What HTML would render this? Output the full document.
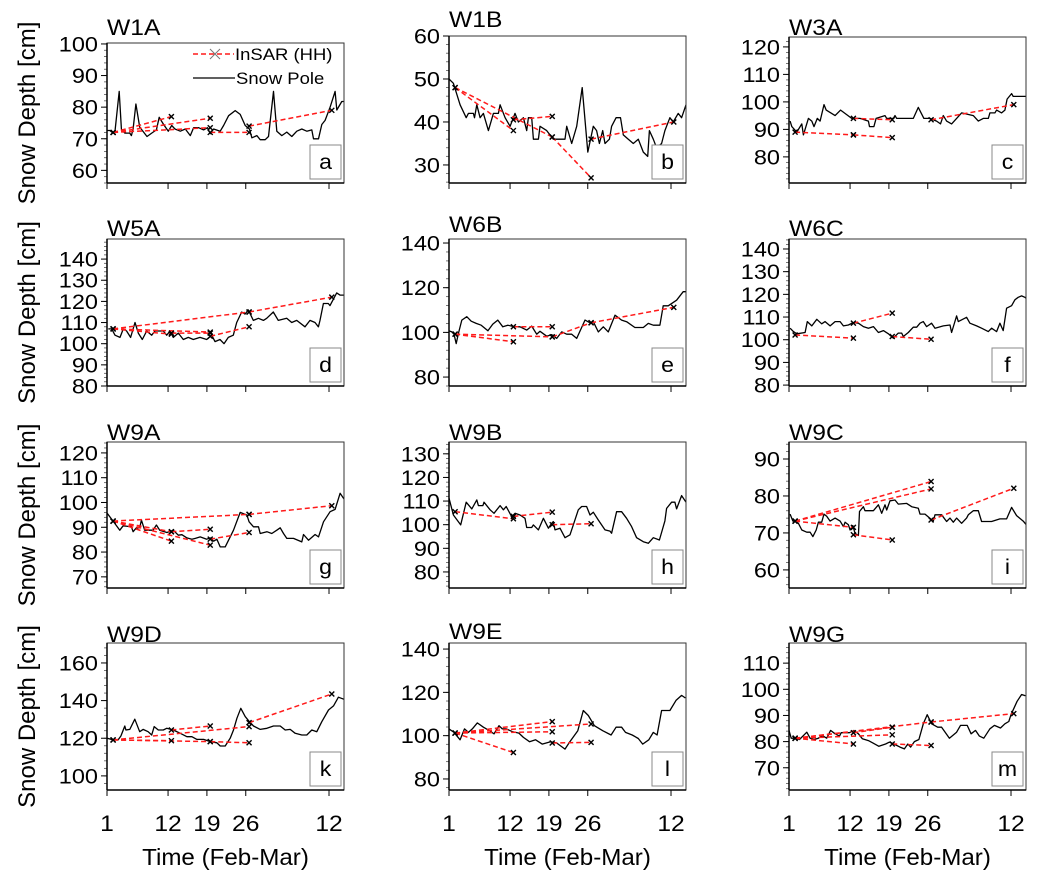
<!DOCTYPE html>
<html><head><meta charset="utf-8"><style>
html,body{margin:0;padding:0;background:#fff;}
svg{display:block;font-family:"Liberation Sans",Arial,sans-serif;}
</style></head>
<body>
<svg id="chart" width="1039" height="878" viewBox="0 0 1039 878" xmlns="http://www.w3.org/2000/svg"></svg>
<script>
// ---- data ----
const xTickDays = [1, 12, 19, 26, 41];
const xTickLabels = ["1", "12", "19", "26", "12"];
const stationNames = ["W1A","W1B","W3A","W5A","W6B","W6C","W9A","W9B","W9C","W9D","W9E","W9G"];
const panelLetters = ["a","b","c","d","e","f","g","h","i","k","l","m"];
const yTicksW1A = [60,70,80,90,100];
const yTicksW1B = [30,40,50,60];
const yTicksW3A = [80,90,100,110,120];
const yTicksW5A = [80,90,100,110,120,130,140];
const yTicksW6B = [80,100,120,140];
const yTicksW6C = [80,90,100,110,120,130,140];
const yTicksW9A = [70,80,90,100,110,120];
const yTicksW9B = [80,90,100,110,120,130];
const yTicksW9C = [60,70,80,90];
const yTicksW9D = [100,120,140,160];
const yTicksW9E = [80,100,120,140];
const yTicksW9G = [70,80,90,100,110];

const poleW1A = [[1.06,72.6],[1.5,72.6],[2.1,71.8],[2.4,71.8],[3.2,85],[3.6,73.1],[4.2,71.8],[5.1,71.8],[5.4,71],[5.7,73.1],[6.2,81],[6.9,73.7],[8.2,70.7],[9.05,71.8],[9.9,72.8],[10.4,76.8],[11.2,74.5],[12.05,72.4],[12.65,74.2],[13.25,73.1],[14.2,72.4],[15.1,73.1],[16,71],[16.6,73.5],[17.5,73.5],[18.4,72.8],[19.1,73.5],[19.6,71.6],[20.2,73.1],[21.4,72.4],[22,74.2],[22.9,77.3],[24.1,78.9],[25,77.7],[25.9,74.2],[26.65,73.1],[27.1,70.3],[28,71],[28.6,69.7],[29.5,69.7],[30.1,70.7],[31,85],[31.6,72.4],[32.5,71],[33.4,72.1],[34.3,70.7],[35.2,72.4],[36.1,73.1],[37,72.4],[37.9,72.8],[38.2,70],[39.1,70],[39.7,74.5],[40.3,75.8],[41.2,80],[42.1,85],[42.4,79.1],[43.3,81.8],[43.7,81.8]];
const poleW1B = [[1,50],[1.8,49],[3,44],[4.1,41],[4.5,42],[5.4,42],[5.6,41],[6,44],[6.6,41],[7.2,42],[8.1,38],[9,42],[9.9,42],[10.2,44],[11.1,41],[12,39],[12.9,42],[13.5,40],[14.4,41],[15,38],[15.3,41],[15.9,41],[16.2,36],[17.1,36],[17.4,39],[18.6,38],[19.8,36],[21.9,36],[22.2,39],[23.1,35],[24,39],[25,48],[26,33],[27,39],[27.6,38],[28.1,35],[28.7,38],[29.1,35],[29.9,36],[30.3,39],[31.1,41],[31.9,41],[32.4,37],[33.3,36],[34.2,35],[35.1,36],[36,33],[36.8,32],[37.1,38],[37.8,36],[38.4,34],[39.3,35],[39.9,38],[40.8,41],[41.4,40],[42.3,42],[42.9,41],[43.7,44]];
const poleW3A = [[1.2,93],[1.5,91],[2.4,89],[3.3,92],[3.6,88],[4.5,94],[5.1,93],[5.5,91],[6.1,94],[6.6,93],[7.3,99],[7.7,97],[9.3,95],[10.3,97],[12.3,94],[13.8,94],[15.3,93],[15.5,91],[16.3,91],[16.7,94],[18.3,95],[18.6,94],[19.8,94],[20.1,95],[20.4,94],[23.4,94],[24.3,98],[25.3,94],[26.4,94],[27.6,93],[28.3,92],[28.8,95],[29.4,93],[30.3,92],[32.1,96],[34.2,95],[35.1,93],[36,94],[36.9,94],[37.2,96],[38.1,96],[38.4,97],[39.3,96],[39.9,97],[40.3,101],[41.1,103],[41.4,102],[43.7,102]];
const poleW5A = [[1.24,107],[1.84,107],[2.44,104],[3.34,103],[3.94,107],[4.54,106],[5.26,103],[6.04,110],[6.64,105],[7.36,102],[8.15,106],[9.05,104],[9.65,106],[11.15,106],[11.75,104],[12.35,106],[12.95,103],[13.85,105],[14.75,102],[15.65,103],[16.55,102],[17.76,103],[18.96,102],[19.86,104],[20.46,101],[21.36,102],[22.08,100],[22.86,103],[23.76,104],[24.36,110],[25.26,115],[25.86,114],[26.46,116],[27.36,111],[28.27,112],[29.17,111],[29.77,112],[30.97,115],[31.87,111],[33.37,112],[34.27,110],[35.17,111],[36.67,108],[37.58,111],[38.48,110],[39.08,108],[39.38,111],[39.98,119],[40.88,119],[41.18,118],[41.78,121],[42.38,124],[42.98,123],[43.7,123]];
const poleW6B = [[1,100.7],[1.5,100.2],[1.9,99.2],[2.3,95],[2.7,99.5],[3.3,105.5],[4.2,107],[5,105],[5.9,104],[6.8,103.2],[8,100.7],[8.9,103.7],[9.8,105.5],[10.7,102.5],[11.6,103.2],[12.8,102.5],[13.8,102.5],[15,101],[15.9,102.8],[16.8,99.2],[17.4,100.5],[18.6,98.3],[19.5,99],[20.4,97.3],[21.3,100.2],[22.2,99.2],[23.1,99.2],[24,97.3],[25.5,105.5],[26.4,104.3],[27,104.8],[27.9,100.2],[28.8,102.5],[29.7,100.2],[30.9,107.7],[32.1,105.5],[33,104.8],[34.5,102.2],[36,102.2],[36.9,104],[37.8,103.2],[39,103.2],[39.6,111.9],[40.5,111.9],[42,114.4],[43.2,118.2],[43.7,118.2]];
const poleW6C = [[1.2,105.1],[1.8,103.6],[2.4,102.6],[3.9,103.2],[4.3,108],[5.1,106.1],[6,109],[6.9,107],[7.5,108],[8.4,106.1],[9.3,108],[10.2,108],[10.8,106.1],[11.7,106.5],[12.6,107.6],[13.5,107.3],[14.4,105.8],[15.3,105.1],[16.2,105.8],[17.1,103.2],[18,104],[18.9,102.6],[19.8,100.7],[20.7,102.9],[21.3,102.9],[21.6,101.4],[22.5,103.2],[23.4,105.5],[24,105.5],[24.6,107.3],[25.2,108],[25.8,105.8],[26.7,107.3],[27.3,105.1],[28.8,106.1],[30,106.5],[30.3,103.2],[31.2,110.5],[31.5,108],[33,109.9],[33.6,107.3],[34.8,106.1],[35.7,105.1],[36.9,103.6],[37.5,105.1],[38.4,103.6],[39,107.3],[39.6,104],[40.2,113.9],[41.1,115],[41.7,117.6],[42.3,118.7],[42.9,119.3],[43.5,118.7],[43.7,118.3]];
const poleW9A = [[1.06,95.6],[2.1,92.5],[3.3,88.8],[3.9,90.6],[5.4,90.2],[5.7,88.2],[6.3,89.8],[6.9,89.8],[7.2,92.9],[7.8,88.8],[9.3,88.8],[9.9,90.9],[10.5,88.8],[11.8,87.9],[12.95,88.8],[13.85,86.8],[14.5,87],[15.4,85.7],[16.3,85.2],[16.9,85.5],[17.8,86.1],[18.96,85.2],[19.6,85.7],[20.2,84.4],[20.8,85.2],[21.4,82.1],[22.3,82.1],[23.8,88.8],[25,96],[26.2,94.9],[26.6,92.2],[27.4,90.2],[28.3,90.2],[28.6,87.5],[29.8,88.2],[30.7,87.5],[31.6,88.8],[32.2,89.8],[32.8,87.5],[33.4,85.5],[34.6,85.5],[36.1,84.1],[36.4,87.1],[37.3,84.8],[38.5,87.1],[39.1,86.1],[40,92.2],[41.2,96.3],[42.1,97.2],[43,103.7],[43.7,101.4]];
const poleW9B = [[1,111.2],[1.8,104.1],[3.1,99.9],[4.1,109.5],[5.1,106.7],[6,110.5],[6.3,108.1],[7.1,108.1],[7.3,109.5],[8.4,106.3],[9.1,104.8],[10.2,108.1],[10.8,106.3],[11.3,107.7],[12.3,103.4],[12.9,104.8],[13.8,104.1],[14.7,102.7],[15,98.8],[15.9,98.8],[16.2,99.9],[17.1,97.8],[18,102.7],[18.9,98.5],[19.5,100.6],[19.8,101.3],[20.1,97.8],[21,98.5],[21.9,94.5],[22.8,95.7],[23.4,99.9],[24.3,106.3],[24.9,107.7],[25.8,107.7],[26.4,104.1],[27,105.3],[27.9,102],[29.1,97.8],[30,97.3],[30.3,96.4],[31.2,105.5],[32.1,105.5],[33,102.7],[33.9,99.2],[34.8,94.5],[36,92.8],[36.9,92.1],[37.8,94.5],[38.9,93.5],[39.9,101.6],[40.2,106.9],[41.1,109.5],[41.7,109.5],[42,106.7],[42.9,112.3],[43.7,109.5]];
const poleW9C = [[1.2,75.1],[1.7,73.2],[2.1,73.2],[2.7,72.6],[3.3,70.8],[4.2,70.2],[4.8,70.2],[5.3,69],[5.9,70.8],[6.3,72.9],[6.9,72.9],[7.3,75.1],[7.8,74.5],[8.4,73.2],[9.3,74],[10.2,73.2],[10.8,71.7],[11.1,72.9],[11.7,72.2],[12,70.8],[12.5,72],[12.9,69.9],[13.5,69.3],[13.7,75.8],[14.4,77.1],[14.7,76],[16.2,76],[17.1,77.6],[17.7,75.3],[18.3,77.6],[18.6,76.2],[19.2,78.7],[20.1,78.9],[20.7,77.8],[22.2,78],[23.1,77.1],[24.3,76.7],[24.6,75.1],[25.5,75.1],[27,73.2],[27.3,74.9],[28.5,74.9],[29.4,73.1],[30,74],[30.6,72.9],[31.2,74],[32.1,72.6],[33,74],[33.3,74.9],[34.2,76],[35.1,76],[35.7,73.1],[37.5,73.1],[39,73.8],[40.2,73.8],[41.1,76.9],[42,74.7],[43.2,73.2],[43.7,72.3]];
const poleW9D = [[1.06,120],[2.1,119.1],[3,119.1],[3.5,121.2],[4.2,126.5],[4.4,124.4],[5.1,124.7],[6,130.1],[6.9,123.5],[7.5,124.7],[8.4,123.5],[9.05,121.7],[9.5,126.2],[10.25,124.4],[11.15,124.4],[11.75,125.3],[12.95,124.4],[14.2,122.6],[15.4,120.8],[16.3,120.8],[17.2,119.4],[18.4,119.4],[19.6,118.2],[20.8,117.6],[21.4,115.9],[22.3,115.9],[23.2,120],[23.8,124.4],[24.4,130.6],[25.1,135.9],[25.9,131.5],[26.65,128.8],[27.4,126.5],[28.6,124.7],[29.8,125.3],[31,126.5],[32.2,126.5],[33.1,124.4],[34,124.7],[34.9,122.6],[36.1,121.7],[37,121.7],[37.9,124.4],[38.8,123.5],[39.7,128.8],[40.9,135],[41.8,137.2],[42.7,141.8],[43.7,140.7]];
const poleW9E = [[1,103.1],[1.9,101.5],[3,98.1],[3.8,103.1],[4.5,101.5],[5.2,103.1],[6.1,105.9],[7.2,103.9],[8.3,102.3],[9.1,100.8],[10,104.6],[10.6,103.1],[11.3,103.1],[12.5,101.8],[13.6,101.2],[14.4,99.2],[15.5,97.2],[16.6,98.1],[17.8,96.1],[19.3,97.2],[20.4,96.6],[21.9,93.8],[22.7,96.9],[24.2,102.3],[25.2,111.6],[26.1,109.3],[27.2,104.6],[28.7,102.3],[30.2,100.3],[31.1,103.9],[32.1,103.9],[32.8,101.5],[34,100.3],[35.1,98.7],[35.9,96.1],[37,98.1],[37.8,101.5],[38.5,100.3],[39.3,111.6],[40.8,111.6],[41.9,116.3],[42.9,118.6],[43.6,117.4]];
const poleW9G = [[1,84.3],[1.4,81.3],[2.1,81.3],[2.9,80.8],[3.6,82.3],[4.2,83.6],[4.8,81.3],[5.5,80.8],[6.3,81.3],[7,82.3],[7.8,81.3],[8.5,84.3],[9.3,83],[10.1,82.1],[10.4,83.4],[11.9,83.4],[12.7,84.3],[13.5,83],[14.2,81.1],[15.3,80.4],[16.1,79.5],[17.2,78.2],[18.4,79.1],[19.1,79.8],[19.9,79.1],[21,77.9],[21.8,77.2],[22.4,79.1],[22.9,77.9],[23.6,80],[24.4,80.8],[25.2,86.8],[25.9,90.3],[26.7,86.8],[27.8,85.5],[28.5,85.5],[29.9,81.3],[31.2,83.6],[31.9,86.2],[33.1,86.2],[33.8,83],[34.6,84.3],[35.3,82.1],[36.1,81.3],[37.2,84.9],[38,86.2],[39.1,85.2],[39.9,86.8],[40.6,87.7],[41,90.3],[42.1,95.4],[42.9,98],[43.6,97.5]];

const insarW1A = [[2.1,72,12.6,77],[2.1,72,19.6,76.5],[2.1,72,19.6,73.5],[19.6,72,26.6,72],[26.6,74,41.5,79]];
const insarW1B = [[2.1,48,12.6,38],[2.1,48,19.6,36.5],[12.6,40.5,19.6,41.3],[19.6,36.5,26.6,27],[26.6,36,41.5,40]];
const insarW3A = [[2.1,89,12.6,88],[12.6,88,19.6,87],[12.6,94,19.6,93.5],[26.6,93.5,41.5,99]];
const insarW5A = [[2.1,107,26.6,115],[26.6,115,41.5,122],[2.1,107,12.6,104.5],[2.1,107,19.6,105.5],[12.6,105,19.6,105],[19.6,103.5,26.6,108]];
const insarW6B = [[2.1,99.2,12.6,95.8],[2.1,99.2,19.6,98],[12.6,102.5,19.6,102.5],[19.6,98,26.6,104.3],[26.6,104.3,41.5,111.2]];
const insarW6C = [[2.1,102.1,12.6,100.7],[12.6,107.3,19.6,111.7],[19.6,101.4,26.6,100.2]];
const insarW9A = [[2.1,92.5,26.6,95.2],[26.6,95.2,41.5,98.7],[2.1,92.5,12.6,88.2],[12.6,88.2,19.6,89.2],[2.1,92.5,19.6,82.8],[2.1,92.5,12.6,84.4],[19.6,85.2,26.6,87.9]];
const insarW9B = [[2.1,105.5,12.6,102.5],[12.6,103.5,19.6,105.3],[19.6,100,26.6,100.4]];
const insarW9C = [[2.1,73.2,26.6,83.9],[2.1,73.2,26.6,81.9],[2.1,73.2,12.6,71.5],[12.6,69.5,19.6,68.1],[26.6,73.5,41.5,82.1]];
const insarW9D = [[2.1,119.1,26.6,126.2],[12.6,124.4,19.6,126.5],[2.1,119.1,19.6,118.2],[2.1,119.1,12.6,118.7],[19.6,118.2,26.6,117.6],[26.6,128.3,41.5,143.5]];
const insarW9E = [[2.1,101.2,12.6,92.2],[2.1,101.2,19.6,106.5],[2.1,101.2,19.6,101.8],[2.1,101.2,26.6,105.4],[19.6,96.6,26.6,96.9]];
const insarW9G = [[2.1,81.3,12.6,79.1],[2.1,81.3,19.6,85.5],[2.1,81.3,19.6,82.6],[2.1,81.3,26.6,87.5],[26.6,87.5,41.5,90.7],[19.6,79.1,26.6,78.5],[12.6,83.4,19.6,85.5]];

const poleSeries = [poleW1A,poleW1B,poleW3A,poleW5A,poleW6B,poleW6C,poleW9A,poleW9B,poleW9C,poleW9D,poleW9E,poleW9G];
const insarSeries = [insarW1A,insarW1B,insarW3A,insarW5A,insarW6B,insarW6C,insarW9A,insarW9B,insarW9C,insarW9D,insarW9E,insarW9G];
const yTickSets = [yTicksW1A,yTicksW1B,yTicksW3A,yTicksW5A,yTicksW6B,yTicksW6C,yTicksW9A,yTicksW9B,yTicksW9C,yTicksW9D,yTicksW9E,yTicksW9G];

// ---- layout ----
const colLeft = [107, 449, 789];
const plotW = 237;
const panelTop = [43,36,37, 239,239,239, 442,442,442, 643,643,643];
const rowBottom = [183, 386, 588, 790];
const yDomains = [[56,100.3],[25.8,60],[70.5,123.6],[80,149.5],[76,141.8],[79.6,144.4],[65.5,124.4],[73.2,135],[55.1,94.6],[92.5,170.6],[74.9,142.8],[61.5,117.7]];
const titleBase = [35,27,35, 236,232,236, 440,440,440, 642,639,642];
const dayMin = 1, dayMax = 43.7;

const NS = "http://www.w3.org/2000/svg";
const svg = document.getElementById("chart");
function mk(tag, attrs, parent) {
  const e = document.createElementNS(NS, tag);
  for (const k in attrs) e.setAttribute(k, attrs[k]);
  (parent || svg).appendChild(e);
  return e;
}
function txt(parent, x, y, s, size, anchor, sx) {
  const t = mk("text", {x:0, y:0, "font-size":size, "text-anchor":anchor||"start", fill:"#000",
    transform:"translate(" + x + "," + y + ") scale(" + (sx||1) + ",1)"}, parent);
  t.textContent = s;
  return t;
}

for (let i = 0; i < 12; i++) {
  const row = Math.floor(i / 3), col = i % 3;
  const L = colLeft[col], R = L + plotW, T = panelTop[i], B = rowBottom[row];
  const [y0, y1] = yDomains[i];
  const xs = d => L + (d - dayMin) / (dayMax - dayMin) * plotW;
  const ys = v => B - (v - y0) / (y1 - y0) * (B - T);
  const g = mk("g", {});
  
  

  const title = txt(g, L, titleBase[i], stationNames[i], 22, "start", 1.12);
  
  

  const ticks = yTickSets[i];
  const step = ticks[1] - ticks[0];
  const minor = step / 5;
  for (let v = ticks[0] - 5 * minor; v <= y1 + 1e-6; v += minor) {
    if (v < y0 - 1e-6) continue;
    const yy = ys(v);
    const m = mk("line", {x1:L-3, x2:L, y1:yy, y2:yy, stroke:"#555", "stroke-width":0.8}, g);
    
    
  }
  ticks.forEach(v => {
    const yy = ys(v);
    const tk = mk("line", {x1:L-6, x2:L, y1:yy, y2:yy, stroke:"#000", "stroke-width":1}, g);
    
    
    const lb = txt(g, L - 9, yy + 7.5, String(v), 21, "end", 1.12);
    
    
  });
  xTickDays.forEach((d, k) => {
    const xx = xs(d);
    const tk = mk("line", {x1:xx, x2:xx, y1:B, y2:B+6, stroke:"#000", "stroke-width":1}, g);
    
    
    if (row === 3) {
      const lb = txt(g, xx, 831, xTickLabels[k], 22, "middle", 1.12);
      
      
    }
  });
  if (row === 3) {
    const xt = txt(g, L + plotW / 2, 865, "Time (Feb-Mar)", 23, "middle", 1.05);
    
    
  }
  if (col === 0) {
    const yt = mk("text", {x:0, y:0, "font-size":24, "text-anchor":"middle", fill:"#000",
      transform:"translate(35," + ((T + B) / 2) + ") rotate(-90)"}, g);
    yt.textContent = "Snow Depth [cm]";
    
    
  }

  const cp = mk("clipPath", {id:"clip" + i}, g);
  mk("rect", {x:L, y:T, width:plotW, height:B - T}, cp);
  const plot = mk("g", {"clip-path":"url(#clip" + i + ")"}, g);

  const pts = poleSeries[i].map(p => xs(p[0]).toFixed(1) + "," + ys(p[1]).toFixed(1)).join(" ");
  const pl = mk("polyline", {points:pts, fill:"none", stroke:"#000", "stroke-width":1.3, "stroke-linejoin":"round"}, plot);
  
  

  insarSeries[i].forEach(s => {
    const ln = mk("line", {x1:xs(s[0]), y1:ys(s[1]), x2:xs(s[2]), y2:ys(s[3]), stroke:"#ff1a1a", "stroke-width":1.5, "stroke-dasharray":"5,3"}, plot);
    
    
    [[s[0], s[1]], [s[2], s[3]]].forEach(p => {
      const cx = xs(p[0]), cy = ys(p[1]);
      const mkr = mk("path", {d:"M"+(cx-2.5)+","+(cy-2.5)+"L"+(cx+2.5)+","+(cy+2.5)+"M"+(cx-2.5)+","+(cy+2.5)+"L"+(cx+2.5)+","+(cy-2.5), stroke:"#000", "stroke-width":1.4, fill:"none"}, plot);
      
      
    });
  });

  const fr = mk("rect", {x:L, y:T, width:plotW, height:B - T, fill:"none", stroke:"#333", "stroke-width":1}, g);
  
  
  mk("line", {x1:L, x2:L, y1:T, y2:B, stroke:"#000", "stroke-width":1.5}, g);
  mk("line", {x1:L, x2:R, y1:B, y2:B, stroke:"#000", "stroke-width":1.5}, g);

  const bx = mk("rect", {x:R - 34, y:B - 38, width:31, height:34, fill:"#fff", stroke:"#888", "stroke-width":1}, g);
  
  
  const lt = txt(g, R - 18.5, B - 14, panelLetters[i], 21, "middle", 1.1);
  
  

  if (i === 0) {
    const lg = mk("g", {}, g);
    
    
    const e1 = mk("g", {}, lg);
    
    
    mk("line", {x1:193, x2:234, y1:54, y2:54, stroke:"#ff1a1a", "stroke-width":1.5, "stroke-dasharray":"5,3"}, e1);
    mk("path", {d:"M210,49L220,59M210,59L220,49", stroke:"#777", "stroke-width":1, fill:"none"}, e1);
    txt(e1, 235, 60, "InSAR (HH)", 16.5, "start", 1.12);
    const e2 = mk("g", {}, lg);
    
    
    mk("line", {x1:193, x2:235, y1:78, y2:78, stroke:"#000", "stroke-width":1.3}, e2);
    txt(e2, 236, 84, "Snow Pole", 16.5, "start", 1.12);
  }
}
</script>
</body></html>
